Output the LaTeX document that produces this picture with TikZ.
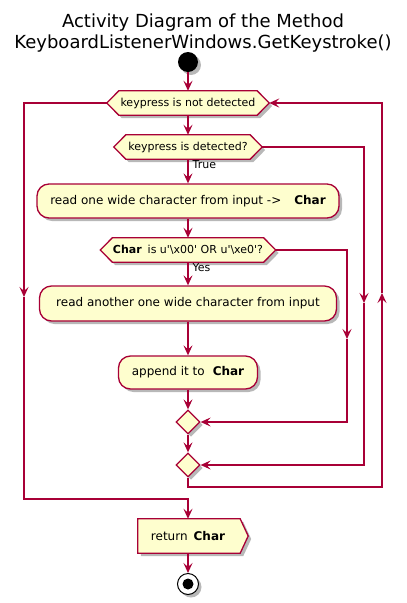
\documentclass[tikz,border=0pt]{standalone}
\usepackage{fontspec}
\setmainfont{DejaVu Sans}
\usetikzlibrary{arrows.meta,shapes.geometric,shadows,backgrounds,calc}
\definecolor{umlfill}{HTML}{FEFECE}
\definecolor{umlline}{HTML}{A80036}
\begin{document}
\begin{tikzpicture}[x=1pt,y=-1pt,
  umlshadow/.style={drop shadow={shadow xshift=3pt,shadow yshift=-3pt,opacity=0.28,fill=black}},
  flow/.style={draw=umlline, line width=1.3pt, -{Stealth[length=10pt,width=9pt,inset=4pt]}},
  box/.style={draw=umlline, fill=umlfill, line width=1.3pt, rounded corners=12pt, minimum height=34pt, inner sep=0pt, font=\fontsize{12}{14}\selectfont, umlshadow},
  hexnode/.style={minimum height=24pt, inner sep=0pt, font=\fontsize{11}{13}\selectfont},
  retnode/.style={minimum height=34pt, inner sep=0pt, font=\fontsize{12}{14}\selectfont},
  hexpath/.style={draw=umlline, fill=umlfill, line width=1.3pt, umlshadow},
  merge/.style={diamond, draw=umlline, fill=umlfill, line width=1.3pt, minimum width=24pt, minimum height=24pt, inner sep=0pt, umlshadow},
  startnode/.style={circle, fill=black, minimum size=20pt, inner sep=0pt, umlshadow},
  endnode/.style={circle, draw=black, fill=white, line width=1pt, minimum size=21pt, inner sep=0pt, umlshadow,
    path picture={\fill[black] (path picture bounding box.center) circle (5.5pt);}},
  lbl/.style={font=\fontsize{11}{13}\selectfont, inner sep=1pt, text=black},
  titletext/.style={font=\fontsize{18}{21}\selectfont, anchor=base, inner sep=0pt}
]
\useasboundingbox (0,0) rectangle (407,603);

\node[titletext] (T1) at (203,27) {Activity Diagram of the Method};
\node[titletext] (T2) at (203,48) {KeyboardListenerWindows.GetKeystroke()};

\node[startnode] (start) at (188,62) {};
\node[hexnode, minimum width=162pt] (W) at (188,103) {keypress is not detected};
\node[hexnode, minimum width=148pt] (D1) at (188,147) {keypress is detected?};
\node[box, minimum width=302pt] (A1) at (188,201) {read one wide character from input ->\hspace{13pt}\textbf{Char}};
\node[hexnode, minimum width=175pt] (D2) at (188,250) {\textbf{Char}\hspace{6pt}is u\textquotesingle\textbackslash x00\textquotesingle{} OR u\textquotesingle\textbackslash xe0\textquotesingle?};
\node[box, minimum width=297pt, minimum height=35pt] (A2) at (188,303.5) {read another one wide character from input};
\node[box, minimum width=139pt, minimum height=33pt] (A3) at (188,372.5) {append it to\hspace{8pt}\textbf{Char}};
\node[merge] (M1) at (188,422) {};
\node[merge] (M2) at (188,465) {};
\node[retnode, minimum width=100pt] (R) at (188,536) {return\hspace{6pt}\textbf{Char}};
\node[endnode] (E) at (188,584) {};

\begin{scope}[on background layer]
  \foreach \n in {W,D1,D2}
    \path[hexpath] (\n.west) -- ([xshift=12pt]\n.north west) -- ([xshift=-12pt]\n.north east) -- (\n.east)
      -- ([xshift=-12pt]\n.south east) -- ([xshift=12pt]\n.south west) -- cycle;
  \path[hexpath] (R.north west) -- ([xshift=2pt]R.north east) -- ([xshift=10pt]R.east)
      -- ([xshift=2pt]R.south east) -- (R.south west) -- cycle;
\end{scope}

\draw[flow] (start) -- (W);
\draw[flow] (W) -- (D1);
\draw[flow] (D1) -- node[lbl, pos=0, anchor=north west, xshift=3pt] {True} (A1);
\draw[flow] (A1) -- (D2);
\draw[flow] (D2) -- node[lbl, pos=0, anchor=north west, xshift=3pt] {Yes} (A2);
\draw[flow] (A2) -- (A3);
\draw[flow] (A3) -- (M1);
\draw[flow] (M1) -- (M2);

\coordinate (midA) at (347,339);
\draw[flow] (D2.east) -| (midA);
\draw[flow] (midA) |- (M1.east);

\coordinate (midB) at (364,303);
\draw[flow] (D1.east) -| (midB);
\draw[flow] (midB) |- (M2.east);

\coordinate (loopR) at (382,487);
\coordinate (midC) at (382,293);
\draw[flow] (M2.south) |- (loopR) -- (midC);
\draw[flow] (midC) |- (W.east);

\coordinate (midL) at (24,297);
\coordinate (loopL) at (24,499);
\draw[flow] (W.west) -| (midL);
\draw[flow] (midL) -- (loopL) -| (R.north);

\draw[flow] (R) -- (E);
\end{tikzpicture}
\end{document}
